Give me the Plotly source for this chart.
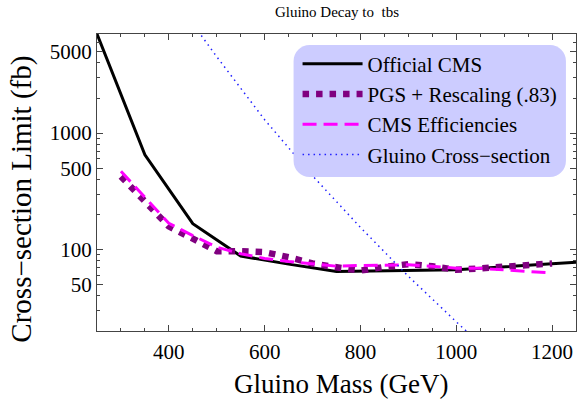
import plotly.graph_objects as go

# ---- data ----
official_mass = [250, 350, 450, 550, 650, 750, 1000, 1250]
official_limit = [7100, 650, 167, 88, 75, 65, 67, 78]

pgs_mass = [300, 350, 400, 450, 500, 550, 600, 650, 700, 750, 800, 850, 900, 950, 1000, 1050, 1100, 1150, 1200]
pgs_limit = [425, 258, 158, 124, 97, 97, 95, 86, 76, 70.5, 66, 71, 75, 72, 67, 69, 71, 73, 76]

eff_mass = [300, 350, 400, 450, 500, 550, 600, 650, 700, 750, 800, 850, 900, 950, 1000, 1050, 1100, 1150, 1200]
eff_limit = [470, 282, 168, 132, 105, 92, 84, 79, 75, 72, 73, 74, 74, 72, 69, 69, 67, 65, 63]

xsec_mass = [400, 500, 600, 700, 800, 900, 1000, 1100]
xsec_value = [16550, 4530, 1303, 430, 155, 59, 24, 10]

x_ticks = [400, 600, 800, 1000, 1200]
y_ticks = [50, 100, 500, 1000, 5000]
y_minor = [20, 30, 40, 60, 70, 80, 90, 200, 300, 400, 600, 700, 800, 900,
           2000, 3000, 4000, 6000, 7000]

x_title = "Gluino Mass (GeV)"
y_title = "Cross\u2212section Limit (fb)"

FONT = "Liberation Serif"

fig = go.Figure()
fig.add_trace(go.Scatter(x=official_mass, y=official_limit, mode="lines",
                         name="Official CMS", line=dict(color="black", width=3)))
fig.add_trace(go.Scatter(x=pgs_mass, y=pgs_limit, mode="lines",
                         name="PGS + Rescaling (.83)",
                         line=dict(color="#800080", width=6.5, dash="6.5px,7px")))
fig.add_trace(go.Scatter(x=eff_mass, y=eff_limit, mode="lines",
                         name="CMS Efficiencies",
                         line=dict(color="#ff00ff", width=3, dash="14px,7px")))
fig.add_trace(go.Scatter(x=xsec_mass, y=xsec_value, mode="lines",
                         name="Gluino Cross\u2212section",
                         line=dict(color="#2020ff", width=1.5, dash="1.5px,4px")))

# rounded legend background
x0, x1, y0, y1 = 0.4104, 0.979, 0.5185, 0.963
rx, ry = 16 / 480, 16 / 297
k = 0.45
path = (f"M{x0+rx},{y0} L{x1-rx},{y0} C{x1-rx*k},{y0} {x1},{y0+ry*k} {x1},{y0+ry} "
        f"L{x1},{y1-ry} C{x1},{y1-ry*k} {x1-rx*k},{y1} {x1-rx},{y1} "
        f"L{x0+rx},{y1} C{x0+rx*k},{y1} {x0},{y1-ry*k} {x0},{y1-ry} "
        f"L{x0},{y0+ry} C{x0},{y0+ry*k} {x0+rx*k},{y0} {x0+rx},{y0} Z")
fig.add_shape(type="path", xref="paper", yref="paper", path=path,
              fillcolor="rgb(204,204,255)", line=dict(width=0), layer="above")

# axis titles as annotations for precise placement
fig.add_annotation(text=x_title, xref="paper", yref="paper", x=0.51, y=-0.178,
                   xanchor="center", yanchor="middle", showarrow=False,
                   font=dict(family=FONT, size=27, color="black"))
fig.add_annotation(text=y_title, xref="paper", yref="paper", x=-0.157, y=0.445,
                   xanchor="center", yanchor="middle", showarrow=False, textangle=-90,
                   font=dict(family=FONT, size=29, color="black"))

axis_common = dict(showline=True, linecolor="#444", linewidth=1, mirror="allticks",
                   ticks="inside", ticklen=6, tickcolor="#444", showgrid=False,
                   zeroline=False, automargin=False,
                   tickfont=dict(family=FONT, size=21, color="black"))

fig.update_layout(
    width=577, height=402,
    margin=dict(l=97, r=1, t=34, b=71, autoexpand=False),
    paper_bgcolor="white", plot_bgcolor="white",
    title=dict(text="Gluino Decay to  tbs", x=0.584, xanchor="center", y=0.97,
               yanchor="middle", font=dict(family=FONT, size=15, color="black")),
    xaxis=dict(range=[250, 1250], tickvals=x_ticks, ticklabelstandoff=2,
               minor=dict(dtick=50, tick0=0, ticks="inside", ticklen=3, tickcolor="#444"),
               **axis_common),
    yaxis=dict(type="log", range=[1.301, 3.851], tickvals=y_ticks,
               ticktext=[str(v) for v in y_ticks],
               minor=dict(tickvals=y_minor, ticks="inside", ticklen=3, tickcolor="#444"),
               **axis_common),
    legend=dict(x=0.4187, y=0.968, xanchor="left", yanchor="top",
                bgcolor="rgba(0,0,0,0)", borderwidth=0, itemwidth=60,
                font=dict(family=FONT, size=21, color="black"),
                tracegroupgap=0),
    showlegend=True,
)

fig.write_html("out.html", config={"displayModeBar": False},
               post_script="document.body.style.margin='0';document.body.style.overflow='hidden';")
